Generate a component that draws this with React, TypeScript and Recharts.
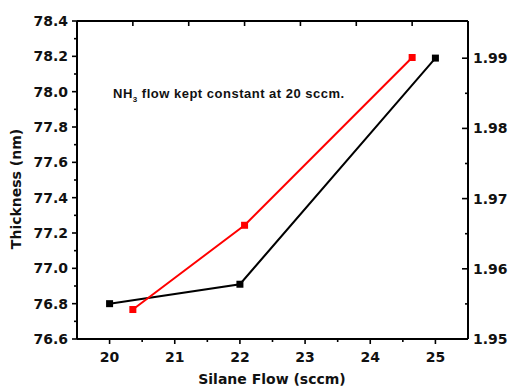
import { Line, LineChart, XAxis, YAxis } from "recharts";

// Silane flow (sccm) vs film thickness, black series
const SILANE_FLOW = [20, 22, 25];
const THICKNESS = [76.8, 76.91, 78.19];

// red series sits on its own (top) x scale and the right y axis
const TOP_X = [1, 3, 6];
const INDEX_VALUES = [1.9542, 1.9662, 1.9901];

const LEFT_MAJOR = [76.6, 76.8, 77.0, 77.2, 77.4, 77.6, 77.8, 78.0, 78.2, 78.4];
const LEFT_MINOR = [76.7, 76.9, 77.1, 77.3, 77.5, 77.7, 77.9, 78.1, 78.3];
const RIGHT_MAJOR = [1.95, 1.96, 1.97, 1.98, 1.99];
const RIGHT_MINOR = [1.955, 1.965, 1.975, 1.985];
const BOTTOM_MAJOR = [20, 21, 22, 23, 24, 25];
const BOTTOM_MINOR = [20.5, 21.5, 22.5, 23.5, 24.5];
const TOP_TICKS = [1, 2, 3, 4, 5, 6];

const blackData = SILANE_FLOW.map((x, i) => ({ x, y: THICKNESS[i] }));
const redData = TOP_X.map((x, i) => ({ x, y: INDEX_VALUES[i] }));

const FONT = "'DejaVu Sans', Arial, sans-serif";
const tickText = { fontFamily: FONT, fontWeight: 700, fontSize: 14, fill: "#111" };

const square = (color: string) => (p: any) => (
  <rect key={`${color}-${p.index}`} x={p.cx - 3.5} y={p.cy - 3.5} width={7} height={7} fill={color} />
);

const LeftTick = ({ x, y, payload }: any) => {
  const major = LEFT_MAJOR.includes(payload.value);
  return (
    <g>
      <line x1={x} x2={x - (major ? 5 : 3)} y1={y} y2={y} stroke="#000" strokeWidth={1.6} />
      {major && (
        <text x={x - 9} y={y} dy="0.36em" textAnchor="end" {...tickText}>
          {payload.value.toFixed(1)}
        </text>
      )}
    </g>
  );
};

const RightTick = ({ x, y, payload }: any) => {
  const major = RIGHT_MAJOR.includes(payload.value);
  return (
    <g>
      <line x1={x} x2={x - (major ? 6 : 3)} y1={y} y2={y} stroke="#000" strokeWidth={1.6} />
      {major && (
        <text x={x + 5} y={y} dy="0.36em" textAnchor="start" {...tickText}>
          {payload.value.toFixed(2)}
        </text>
      )}
    </g>
  );
};

const BottomTick = ({ x, y, payload }: any) => {
  const major = BOTTOM_MAJOR.includes(payload.value);
  return (
    <g>
      <line x1={x} x2={x} y1={y} y2={y + (major ? 5 : 3)} stroke="#000" strokeWidth={1.6} />
      {major && (
        <text x={x} y={y + 23} textAnchor="middle" {...tickText}>
          {payload.value}
        </text>
      )}
    </g>
  );
};

const TopTick = ({ x, y }: any) => (
  <line x1={x} x2={x} y1={y} y2={y + 5} stroke="#000" strokeWidth={1.6} />
);

const axisLine = { stroke: "#000", strokeWidth: 2 };

export default function App() {
  return (
    <div style={{ position: "relative", width: 508, height: 391, background: "#fff" }}>
      <style>{`body{margin:0}`}</style>
      <LineChart width={508} height={391} margin={{ top: 0, right: 0, left: 0, bottom: 0 }}>
        <XAxis
          xAxisId="bottom"
          dataKey="x"
          type="number"
          domain={[19.5, 25.5]}
          ticks={[...BOTTOM_MAJOR, ...BOTTOM_MINOR]}
          orientation="bottom"
          height={52}
          axisLine={axisLine}
          tickLine={false}
          tickSize={0}
          tickMargin={0}
          interval={0}
          tick={<BottomTick />}
        />
        <XAxis
          xAxisId="top"
          dataKey="x"
          type="number"
          domain={[0, 7]}
          ticks={TOP_TICKS}
          orientation="top"
          height={21}
          axisLine={axisLine}
          tickLine={false}
          tickSize={0}
          tickMargin={0}
          interval={0}
          tick={<TopTick />}
        />
        <YAxis
          yAxisId="left"
          type="number"
          domain={[76.6, 78.4]}
          ticks={[...LEFT_MAJOR, ...LEFT_MINOR]}
          width={77}
          axisLine={axisLine}
          tickLine={false}
          tickSize={0}
          tickMargin={0}
          interval={0}
          tick={<LeftTick />}
        />
        <YAxis
          yAxisId="right"
          orientation="right"
          type="number"
          domain={[1.95, 1.9953]}
          ticks={[...RIGHT_MAJOR, ...RIGHT_MINOR]}
          width={40}
          axisLine={axisLine}
          tickLine={false}
          tickSize={0}
          tickMargin={0}
          interval={0}
          tick={<RightTick />}
        />
        <Line
          data={blackData}
          dataKey="y"
          xAxisId="bottom"
          yAxisId="left"
          stroke="#000"
          strokeWidth={2}
          dot={square("#000")}
          activeDot={false}
          isAnimationActive={false}
        />
        <Line
          data={redData}
          dataKey="y"
          xAxisId="top"
          yAxisId="right"
          stroke="#ff0000"
          strokeWidth={2}
          dot={square("#ff0000")}
          activeDot={false}
          isAnimationActive={false}
        />
      </LineChart>
      <svg
        width={508}
        height={391}
        style={{ position: "absolute", left: 0, top: 0, pointerEvents: "none" }}
      >
        <text x={272} y={384} textAnchor="middle" {...tickText}>
          Silane Flow (sccm)
        </text>
        <text
          x={16}
          y={189}
          textAnchor="middle"
          dy="0.36em"
          transform="rotate(-90 16 189)"
          {...tickText}
        >
          Thickness (nm)
        </text>
        <text
          x={113}
          y={98}
          fontFamily="'Liberation Sans', Arial, sans-serif"
          fontWeight={700}
          fontSize={13}
          letterSpacing={0.5}
          fill="#111"
        >
          NH
          <tspan fontSize={8} dy={4}>3</tspan>
          <tspan dy={-4}> flow kept constant at 20 sccm.</tspan>
        </text>
      </svg>
    </div>
  );
}
